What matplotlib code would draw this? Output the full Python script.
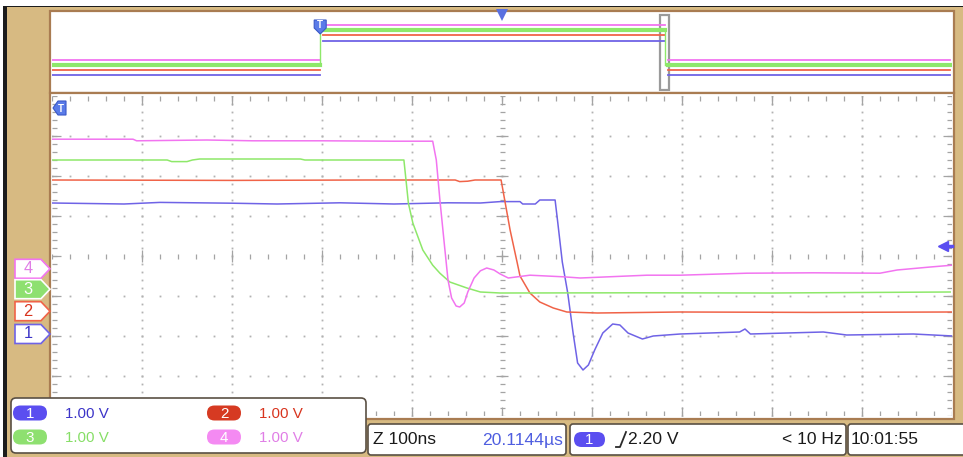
import numpy as np
import matplotlib.pyplot as plt
from matplotlib import font_manager
from matplotlib.patches import Rectangle, FancyBboxPatch, Polygon
from matplotlib.transforms import blended_transform_factory

# scope settings
time_per_div = 100      # ns
n_hdiv = 10
n_vdiv = 8
trig_level = 2.20       # V on channel 1

# channel ground markers, in divisions from screen centre
ch_offsets = {1: -1.95, 2: -1.38, 3: -0.83, 4: -0.32}

# main window traces (time in ns, voltage in V)
ch1_t = [-500, -420, -380, -300, -250, -180, -120, -60, -24, -2, 20, 23, 37, 42, 59,
         62, 67, 73, 79, 84, 90, 96, 103, 112, 123, 131, 140, 156, 168, 198, 264, 270,
         276, 357, 383, 457, 501]
ch1_v = [3.275, 3.25, 3.29, 3.27, 3.25, 3.28, 3.25, 3.28, 3.275, 3.31, 3.31, 3.25, 3.25,
         3.35, 3.35, 2.78, 1.8, 1.03, 0.025, -0.725, -0.9, -0.775, -0.4, 0.025, 0.25,
         0.225, 0.025, -0.125, -0.05, 0.0, 0.05, 0.125, 0.0, 0.05, -0.025, 0.0, -0.05]

ch2_t = [-500, -300, -150, -52, -47, -38, -30, -1, 1, 9, 17, 20, 31, 42, 57, 72, 106,
         198, 346, 501]
ch2_v = [3.28, 3.27, 3.28, 3.28, 3.24, 3.25, 3.28, 3.28, 3.03, 2.03, 1.2, 0.88, 0.455,
         0.23, 0.08, -0.02, -0.045, -0.02, -0.03, -0.02]

ch3_t = [-500, -372, -367, -350, -344, -336, -224, -219, -109, -107, -104, -99, -88,
         -77, -69, -58, -39, -24, -2, 150, 300, 498]
ch3_v = [3.23, 3.23, 3.19, 3.19, 3.23, 3.255, 3.255, 3.23, 3.23, 2.8, 2.15, 1.65, 0.98,
         0.6, 0.4, 0.18, 0.03, -0.07, -0.095, -0.09, -0.095, -0.07]

ch4_t = [-500, -410, -406, -328, -277, -200, -120, -77, -73, -69, -64, -60, -56, -51,
         -47, -42, -38, -31, -24, -17, -9, -2, 7, 31, 68, 87, 161, 198, 272, 346, 420,
         439, 476, 500]
ch4_v = [3.24, 3.24, 3.2, 3.22, 3.2, 3.2, 3.19, 3.19, 2.72, 1.72, 0.6, -0.28, -0.73,
         -0.93, -0.955, -0.855, -0.58, -0.23, -0.05, 0.02, -0.03, -0.13, -0.23, -0.16,
         -0.2, -0.23, -0.16, -0.16, -0.11, -0.1, -0.11, -0.03, 0.045, 0.09]

# overview strip (x in divisions of the whole record, y in strip units 0..8)
ov_rise = 2.98
ov_fall = 6.81
ov_restart = 6.84
ov_window = (6.76, 6.86)
ov_low = {1: 1.64, 2: 2.15, 3: 2.67, 4: 3.18}
ov_high = {1: 5.08, 2: 5.74, 3: 6.26, 4: 6.77}

# readouts
scale_labels = {1: '1.00 V', 2: '1.00 V', 3: '1.00 V', 4: '1.00 V'}
timebase_label = 'Z 100ns'
delay_label = '20.1144µs'
trig_source = '1'
trig_label = '2.20 V'
freq_label = '< 10 Hz'
clock_label = '10:01:55'

traces = {1: (ch1_t, ch1_v), 2: (ch2_t, ch2_v), 3: (ch3_t, ch3_v), 4: (ch4_t, ch4_v)}
trace_col = {1: '#6f63e6', 2: '#f06348', 3: '#8ee86a', 4: '#f274f0'}
text_col = {1: '#3c34c8', 2: '#d8341e', 3: '#86de66', 4: '#e07ee6'}
pill_col = {1: '#5b4ef0', 2: '#d63a22', 3: '#8ee070', 4: '#f48af2'}
tan = '#d7ba82'
brown = '#a97c52'
edge_dark = '#5a5044'

names = {f.name for f in font_manager.fontManager.ttflist}
if 'Liberation Sans Narrow' in names:
    font, fscale = 'Liberation Sans Narrow', 1.0
else:
    font, fscale = 'Liberation Sans', 0.84
plt.rcParams['font.family'] = [font, 'DejaVu Sans']

W, H = 963, 457
fig = plt.figure(figsize=(W / 100, H / 100), dpi=100)
fig.patch.set_facecolor(tan)


def frac(x0, y0, x1, y1):
    return [x0 / W, 1 - y1 / H, (x1 - x0) / W, (y1 - y0) / H]


# background: frames in pixel units
bg = fig.add_axes([0, 0, 1, 1], zorder=0)
bg.set_xlim(0, W)
bg.set_ylim(H, 0)
bg.axis('off')
bg.add_patch(Rectangle((0, 0), W, 6, fc='white', ec='none'))
bg.add_patch(Rectangle((0, 5.5), W, 1.8, fc='#1c1c1c', ec='none'))
bg.add_patch(Rectangle((0, 6), 3, H, fc='white', ec='none'))
bg.add_patch(Rectangle((3, 6), 3.5, H, fc='#1c1c1c', ec='none'))
bg.add_patch(Rectangle((50, 11), 904, 82, fc='white', ec=brown, lw=1.6))
bg.add_patch(Rectangle((50, 93), 904, 326, fc='white', ec=brown, lw=1.6))

# main graticule
ax = fig.add_axes(frac(52, 96, 952, 416), zorder=2)
ax.set_xlim(-time_per_div * n_hdiv / 2, time_per_div * n_hdiv / 2)
ax.set_ylim(-n_vdiv / 2, n_vdiv / 2)
ax.axis('off')
ax.patch.set_alpha(0)

x_lo, x_hi = ax.get_xlim()
y_lo, y_hi = ax.get_ylim()
px_x = (x_hi - x_lo) / 900.0
px_y = (y_hi - y_lo) / 320.0
minor_x = np.arange(x_lo, x_hi + 1, time_per_div / 5)
minor_y = np.arange(y_lo, y_hi + 0.01, 0.2)
major_x = np.arange(x_lo + time_per_div, x_hi, time_per_div)
major_y = np.arange(y_lo + 1, y_hi, 1)
dot_col = '#b2b2b2'
tick_col = '#a4a4a4'

for mx in major_x:
    if mx == 0:
        continue
    ax.plot(np.full_like(minor_y, mx), minor_y, ls='none', marker='s', ms=1.3,
            mew=0, color=dot_col)
for my in major_y:
    if my == 0:
        continue
    ax.plot(minor_x, np.full_like(minor_x, my), ls='none', marker='s', ms=1.3,
            mew=0, color=dot_col)

# centre-line ticks
ax.vlines(minor_x, -2.5 * px_y, 2.5 * px_y, color=tick_col, lw=0.9)
ax.vlines(major_x, -6 * px_y, 6 * px_y, color=tick_col, lw=0.9)
ax.hlines(minor_y, -2.5 * px_x, 2.5 * px_x, color=tick_col, lw=0.9)
ax.hlines(major_y, -6 * px_x, 6 * px_x, color=tick_col, lw=0.9)
# edge ticks
ax.vlines(minor_x, y_hi - 5 * px_y, y_hi, color=tick_col, lw=0.9)
ax.vlines(major_x, y_hi - 9 * px_y, y_hi, color=tick_col, lw=0.9)
ax.vlines(minor_x, y_lo, y_lo + 5 * px_y, color=tick_col, lw=0.9)
ax.vlines(major_x, y_lo, y_lo + 9 * px_y, color=tick_col, lw=0.9)
ax.hlines(minor_y, x_lo, x_lo + 5 * px_x, color=tick_col, lw=0.9)
ax.hlines(major_y, x_lo, x_lo + 9 * px_x, color=tick_col, lw=0.9)
ax.hlines(minor_y, x_hi - 5 * px_x, x_hi, color=tick_col, lw=0.9)
ax.hlines(major_y, x_hi - 9 * px_x, x_hi, color=tick_col, lw=0.9)

for ch in (1, 2, 3, 4):
    t, v = traces[ch]
    ax.plot(t, np.array(v) + ch_offsets[ch], color=trace_col[ch], lw=1.1,
            solid_joinstyle='round')

# ground tags on the left
trans = blended_transform_factory(ax.transAxes, ax.transData)
tx0, tx1, tip = -37 / 900, -11 / 900, -2 / 900
hh = 9.5 * px_y
tag_style = {1: ('white', trace_col[1], text_col[1]),
             2: ('white', trace_col[2], text_col[2]),
             3: (pill_col[3], 'white', 'white'),
             4: ('white', trace_col[4], text_col[4])}
for ch in (4, 3, 2, 1):
    y0 = ch_offsets[ch]
    fc, ec, tc = tag_style[ch]
    ax.add_patch(Polygon([(tx0, y0 - hh), (tx1, y0 - hh), (tip, y0), (tx1, y0 + hh),
                          (tx0, y0 + hh)], closed=True, fc=fc, ec=ec, lw=1.2,
                         transform=trans, clip_on=False, zorder=5))
    ax.text(-24 / 900, y0, str(ch), transform=trans, ha='center', va='center',
            fontsize=14 * fscale, color=tc, clip_on=False, zorder=6)

# trigger level arrow (right edge)
ty = ch_offsets[1] + trig_level
ax.plot([0.990], [ty], transform=trans, marker='<', ms=7, color='#5b4ef0',
        clip_on=False, zorder=6)
ax.plot([0.990, 1.0], [ty, ty], transform=trans, color='#5b4ef0', lw=2.5,
        clip_on=False, zorder=6)

# overview strip
ov = fig.add_axes(frac(52, 13, 952, 91), zorder=2)
ov.set_xlim(0, n_hdiv)
ov.set_ylim(0, 8)
ov.axis('off')
ov.patch.set_alpha(0)
for ch in (1, 2, 4, 3):
    lw = 3.0 if ch == 3 else 1.3
    if ch == 3:
        xs = [0.0, ov_rise, ov_rise, ov_fall, ov_fall, n_hdiv - 0.02]
        ys = [ov_low[ch], ov_low[ch], ov_high[ch], ov_high[ch], ov_low[ch], ov_low[ch]]
        ov.plot(xs[:3], ys[:3], color=trace_col[ch], lw=1.0)
        ov.plot([ov_rise, ov_fall], [ov_high[ch]] * 2, color=trace_col[ch], lw=lw)
        ov.plot([0.0, ov_rise], [ov_low[ch]] * 2, color=trace_col[ch], lw=lw)
        ov.plot([ov_fall, ov_fall], [ov_high[ch], ov_low[ch]], color=trace_col[ch], lw=1.0)
        ov.plot([ov_restart, n_hdiv - 0.02], [ov_low[ch]] * 2, color=trace_col[ch], lw=lw)
    else:
        ov.plot([0.0, ov_rise], [ov_low[ch]] * 2, color=trace_col[ch], lw=lw)
        ov.plot([ov_rise + 0.03, ov_fall], [ov_high[ch]] * 2, color=trace_col[ch], lw=lw)
        ov.plot([ov_restart, n_hdiv - 0.02], [ov_low[ch]] * 2, color=trace_col[ch], lw=lw)
ov.add_patch(Rectangle((ov_window[0], 0.1), ov_window[1] - ov_window[0], 7.7,
                       fc='none', ec='#9a9a9a', lw=1.6))
# trigger point marker and centre marker in the strip
trig_px = 52 + ov_rise * 90
ovl = fig.add_axes([0, 0, 1, 1], zorder=10)
ovl.set_xlim(0, W)
ovl.set_ylim(H, 0)
ovl.axis('off')
ovl.patch.set_alpha(0)
ovl.add_patch(Polygon([(trig_px - 6, 20), (trig_px + 6, 20), (trig_px + 6, 28),
                       (trig_px, 34), (trig_px - 6, 28)], closed=True, fc='#5a7be8',
                      ec='#3a58c8', lw=0.8))
ovl.text(trig_px, 25.5, 'T', color='white', fontsize=7, ha='center', va='center',
         fontweight='bold')
ovl.plot([502], [14.5], marker='v', ms=8, color='#5a70e0', mew=0)

# trigger tag at top left of the graticule
ovl.add_patch(Polygon([(53, 108), (58, 101), (66, 101), (66, 115), (58, 115)],
                      closed=True, fc='#5a7be8', ec='#3a58c8', lw=0.8))
ovl.text(61, 108.5, 'T', color='white', fontsize=7, ha='center', va='center',
         fontweight='bold')

# channel readout box
ovl.add_patch(FancyBboxPatch((11, 398), 355, 55, boxstyle='round,pad=0,rounding_size=5',
                             fc='white', ec=edge_dark, lw=1.2))
pill_pos = {1: (30, 413), 2: (224, 413), 3: (30, 437), 4: (224, 437)}
for ch in (1, 2, 3, 4):
    cx, cy = pill_pos[ch]
    ovl.add_patch(FancyBboxPatch((cx - 17, cy - 7.5), 34, 15,
                                 boxstyle='round,pad=0,rounding_size=7.5',
                                 fc=pill_col[ch], ec='none'))
    ovl.text(cx, cy + 0.5, str(ch), color='white', fontsize=13 * fscale,
             ha='center', va='center')
    ovl.text(cx + 35, cy + 0.5, scale_labels[ch], color=text_col[ch],
             fontsize=13 * fscale, ha='left', va='center')

# bottom status boxes
for x0, x1 in [(368, 566), (570, 846), (848, 968)]:
    ovl.add_patch(FancyBboxPatch((x0, 424), x1 - x0, 31,
                                 boxstyle='round,pad=0,rounding_size=3',
                                 fc='white', ec=edge_dark, lw=1.2))
ovl.text(373, 440, timebase_label, color='#1a1a1a', fontsize=15 * fscale,
         ha='left', va='center')
ovl.text(563, 440, delay_label, color='#4f5ee0', fontsize=15 * fscale,
         ha='right', va='center')
ovl.add_patch(FancyBboxPatch((574, 432), 31, 15, boxstyle='round,pad=0,rounding_size=7.5',
                             fc='#5b4ef0', ec='none'))
ovl.text(589.5, 440, trig_source, color='white', fontsize=13 * fscale,
         ha='center', va='center')
ovl.plot([616, 620, 626], [447, 447, 432], color='#2a2a2a', lw=1.3)
ovl.text(628, 440, trig_label, color='#1a1a1a', fontsize=15 * fscale,
         ha='left', va='center')
ovl.text(843, 440, freq_label, color='#1a1a1a', fontsize=15 * fscale,
         ha='right', va='center')
ovl.text(851, 440, clock_label, color='#1a1a1a', fontsize=15 * fscale,
         ha='left', va='center')

fig.savefig('out.png', dpi=100, facecolor=fig.get_facecolor())
